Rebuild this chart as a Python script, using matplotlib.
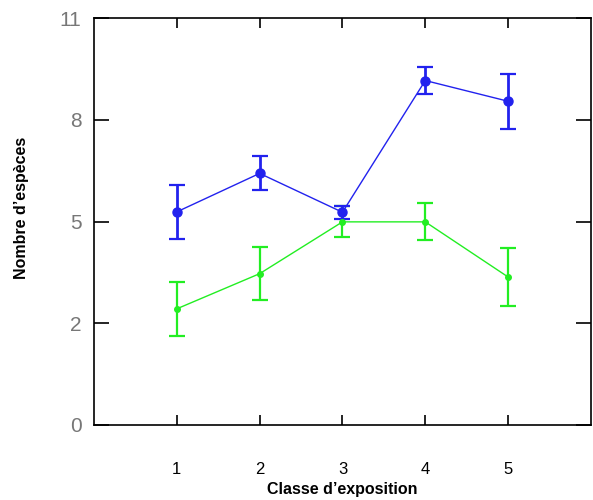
import matplotlib
matplotlib.use("Agg")
import matplotlib.pyplot as plt

plt.rcParams['font.family'] = ['Liberation Sans', 'DejaVu Sans']

# exposure classes
classes = [1, 2, 3, 4, 5]

# mean species count and error, upper series
blue_mean = [5.76, 6.80, 5.75, 9.31, 8.75]
blue_err = [0.72, 0.46, 0.17, 0.37, 0.74]

# mean species count and error, lower series
green_mean = [3.14, 4.09, 5.49, 5.49, 4.00]
green_err = [0.73, 0.72, 0.42, 0.50, 0.78]

y_ticks = [0, 2.75, 5.5, 8.25, 11]
y_tick_labels = ['0', '2', '5', '8', '11']

fig = plt.figure(figsize=(5.93, 5.0), dpi=100)
ax = fig.add_axes([0.1585, 0.15, 0.838, 0.814])

ax.errorbar(classes, green_mean, yerr=green_err, color='#22ee22', lw=1,
            elinewidth=1.6, capsize=6, capthick=1.6, marker='o', ms=4)
ax.errorbar(classes, blue_mean, yerr=blue_err, color='#2222ee', lw=1,
            elinewidth=2, capsize=6, capthick=1.6, marker='o', ms=6.5)

ax.set_xlim(0, 6)
ax.set_ylim(0, 11)
ax.set_xticks(classes)
ax.set_yticks(y_ticks)
ax.set_yticklabels(y_tick_labels, fontsize=15, color='#777777')
ax.set_xticklabels([str(c) for c in classes], fontsize=12)

ax.tick_params(axis='both', direction='in', top=True, right=True, width=1.2)
ax.tick_params(axis='y', length=11, pad=9)
ax.tick_params(axis='x', length=7, pad=27)
for s in ax.spines.values():
    s.set_linewidth(1.2)

ax.set_xlabel("Classe d’exposition", fontsize=11.5, fontweight='bold', labelpad=3)
ax.set_ylabel("Nombre d’espèces", fontsize=11.5, fontweight='bold')
ax.yaxis.set_label_coords(-0.13, 0.533)

plt.savefig("out.png", dpi=100)
